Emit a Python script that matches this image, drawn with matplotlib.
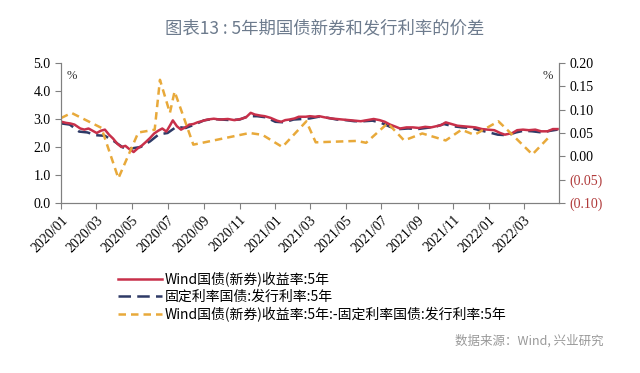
import numpy as np
import pandas as pd
import matplotlib
matplotlib.use("Agg")
import matplotlib.pyplot as plt
import matplotlib.dates as mdates
from matplotlib.ticker import FuncFormatter

plt.rcParams['font.family'] = ['Noto Sans CJK SC', 'DejaVu Sans']

# Wind国债(新券)收益率:5年 (left axis, %)
red_dates = ['2020-01-02', '2020-01-10', '2020-01-17', '2020-01-24', '2020-02-03', '2020-02-10',
             '2020-02-17', '2020-02-24', '2020-03-02', '2020-03-09', '2020-03-16', '2020-03-23',
             '2020-03-30', '2020-04-06', '2020-04-13', '2020-04-20', '2020-04-27', '2020-05-04',
             '2020-05-11', '2020-05-18', '2020-05-25', '2020-06-01', '2020-06-08', '2020-06-15',
             '2020-06-22', '2020-06-29', '2020-07-06', '2020-07-10', '2020-07-17', '2020-07-24',
             '2020-07-31', '2020-08-07', '2020-08-14', '2020-08-21', '2020-08-28', '2020-09-07',
             '2020-09-18', '2020-09-28', '2020-10-12', '2020-10-23', '2020-11-03', '2020-11-12',
             '2020-11-20', '2020-11-27', '2020-12-07', '2020-12-14', '2020-12-24', '2021-01-04',
             '2021-01-11', '2021-01-18', '2021-01-25', '2021-02-03', '2021-02-10', '2021-02-22',
             '2021-03-01', '2021-03-10', '2021-03-17', '2021-03-26', '2021-04-06', '2021-04-16',
             '2021-04-26', '2021-05-07', '2021-05-17', '2021-05-27', '2021-06-07', '2021-06-18',
             '2021-06-28', '2021-07-07', '2021-07-16', '2021-07-26', '2021-08-02', '2021-08-13',
             '2021-08-24', '2021-09-03', '2021-09-14', '2021-09-24', '2021-10-11', '2021-10-19',
             '2021-10-29', '2021-11-08', '2021-11-18', '2021-11-29', '2021-12-09', '2021-12-20',
             '2021-12-30', '2022-01-10', '2022-01-20', '2022-01-28', '2022-02-10', '2022-02-18',
             '2022-02-28', '2022-03-10', '2022-03-21', '2022-03-31', '2022-04-11', '2022-04-20',
             '2022-04-28']
red_vals = [2.90, 2.86, 2.84, 2.80, 2.66, 2.62,
            2.66, 2.58, 2.50, 2.58, 2.62, 2.44,
            2.30, 2.12, 2.00, 2.04, 1.92, 1.82,
            1.95, 2.05, 2.18, 2.32, 2.48, 2.58,
            2.66, 2.55, 2.80, 2.95, 2.74, 2.62,
            2.70, 2.80, 2.82, 2.88, 2.92, 2.98,
            3.01, 2.98, 3.00, 2.96, 3.00, 3.06,
            3.22, 3.16, 3.12, 3.10, 3.04, 2.94,
            2.90, 2.96, 2.98, 3.02, 3.08, 3.08,
            3.10, 3.08, 3.10, 3.06, 3.02, 3.00,
            2.98, 2.96, 2.94, 2.92, 2.96, 3.00,
            2.96, 2.90, 2.80, 2.72, 2.66, 2.70,
            2.70, 2.68, 2.72, 2.70, 2.78, 2.88,
            2.82, 2.76, 2.74, 2.72, 2.70, 2.64,
            2.62, 2.60, 2.50, 2.44, 2.50, 2.60,
            2.62, 2.60, 2.62, 2.56, 2.56, 2.64,
            2.64]

# 固定利率国债:发行利率:5年 (left axis, %)
blue_dates = ['2020-01-02', '2020-01-16', '2020-02-01', '2020-02-15', '2020-03-01', '2020-03-16',
              '2020-04-01', '2020-04-16', '2020-05-01', '2020-05-16', '2020-06-01', '2020-06-16',
              '2020-07-01', '2020-07-16', '2020-08-01', '2020-08-16', '2020-09-01', '2020-09-16',
              '2020-10-01', '2020-10-16', '2020-11-01', '2020-11-16', '2020-12-01', '2020-12-16',
              '2021-01-01', '2021-01-16', '2021-02-01', '2021-02-16', '2021-03-01', '2021-03-16',
              '2021-04-01', '2021-04-16', '2021-05-01', '2021-05-16', '2021-06-01', '2021-06-16',
              '2021-07-01', '2021-07-16', '2021-08-01', '2021-08-16', '2021-09-01', '2021-09-16',
              '2021-10-01', '2021-10-16', '2021-11-01', '2021-11-16', '2021-12-01', '2021-12-16',
              '2022-01-01', '2022-01-16', '2022-02-01', '2022-02-16', '2022-03-01', '2022-03-16',
              '2022-04-01', '2022-04-16', '2022-04-28']
blue_vals = [2.84, 2.80, 2.55, 2.52, 2.42, 2.40,
             2.20, 1.98, 1.95, 2.00, 2.20, 2.45,
             2.50, 2.72, 2.68, 2.80, 2.95, 3.00,
             2.98, 2.96, 2.98, 3.10, 3.10, 3.06,
             2.90, 2.88, 2.98, 3.00, 3.02, 3.08,
             3.04, 2.98, 2.96, 2.92, 2.92, 2.94,
             2.86, 2.72, 2.64, 2.66, 2.64, 2.68,
             2.72, 2.82, 2.74, 2.70, 2.68, 2.60,
             2.52, 2.44, 2.42, 2.52, 2.58, 2.56,
             2.52, 2.58, 2.62]

# 价差 (right axis, %)
spread_dates = ['2020-01-01', '2020-01-19', '2020-03-10', '2020-04-08', '2020-05-12', '2020-06-09',
                '2020-06-18', '2020-07-05', '2020-07-13', '2020-08-14', '2020-11-18', '2020-12-10',
                '2021-01-13', '2021-02-23', '2021-03-11', '2021-05-20', '2021-06-05', '2021-07-12',
                '2021-08-09', '2021-09-09', '2021-10-19', '2021-11-15', '2021-12-07', '2022-01-17',
                '2022-02-10', '2022-03-16', '2022-04-17']
spread_vals = [0.082, 0.093, 0.061, -0.047, 0.051, 0.057,
               0.164, 0.093, 0.139, 0.025, 0.050, 0.046,
               0.020, 0.075, 0.030, 0.033, 0.029, 0.071,
               0.034, 0.049, 0.034, 0.057, 0.046, 0.075,
               0.046, 0.004, 0.046]

tick_months = ['2020-01', '2020-03', '2020-05', '2020-07', '2020-09', '2020-11', '2021-01',
               '2021-03', '2021-05', '2021-07', '2021-09', '2021-11', '2022-01', '2022-03']

red_c = '#C8304A'
blue_c = '#2E3A66'
gold_c = '#E8A93A'
neg_c = '#B03A3A'
axis_c = '#808080'

fig = plt.figure(figsize=(6.4, 3.73), dpi=100)
ax = fig.add_axes([0.0953, 0.4558, 0.7777, 0.3753])
ax2 = ax.twinx()

l2, = ax.plot(pd.to_datetime(blue_dates), blue_vals, color=blue_c, lw=1.8, ls=(0, (5, 2.5)),
              zorder=2)
l1, = ax.plot(pd.to_datetime(red_dates), red_vals, color=red_c, lw=1.8, zorder=3)
l3, = ax2.plot(pd.to_datetime(spread_dates), spread_vals, color=gold_c, lw=1.8, ls=(0, (3, 2)))

ax.set_xlim(pd.Timestamp('2020-01-01'), pd.Timestamp('2022-04-30'))
ax.set_ylim(0, 5)
ax2.set_ylim(-0.10, 0.20)
ax.set_yticks(np.arange(0, 5.01, 1.0))
ax2.set_yticks(np.arange(-0.10, 0.201, 0.05))

ax.set_xticks(pd.to_datetime(tick_months))
ax.xaxis.set_major_formatter(mdates.DateFormatter('%Y/%m'))

serif = 'Liberation Serif'
for lab in ax.get_xticklabels():
    lab.set_rotation(45)
    lab.set_ha('right')
    lab.set_rotation_mode('anchor')
    lab.set_family(serif)
    lab.set_fontsize(10)
ax.yaxis.set_major_formatter(FuncFormatter(lambda v, p: f'{v:.1f}'))
for lab in ax.get_yticklabels():
    lab.set_family(serif)
    lab.set_fontsize(10)


def fmt_right(v, p):
    if v < -1e-9:
        return f'({abs(v):.2f})'
    return f'{abs(v):.2f}'


ax2.yaxis.set_major_formatter(FuncFormatter(fmt_right))
fig.canvas.draw()
for lab in ax2.get_yticklabels():
    lab.set_family(serif)
    lab.set_fontsize(10)

for a in (ax, ax2):
    a.spines['top'].set_visible(False)
    for s in ('left', 'right', 'bottom'):
        a.spines[s].set_color(axis_c)
    a.tick_params(colors=axis_c, length=4, width=0.8, labelcolor='black')
for lab, v in zip(ax2.get_yticklabels(), ax2.get_yticks()):
    if v < -1e-9:
        lab.set_color(neg_c)

ax.text(0.012, 0.95, '%', transform=ax.transAxes, ha='left', va='top', fontsize=9,
        family=serif, color='#333333')
ax2.text(0.988, 0.95, '%', transform=ax.transAxes, ha='right', va='top', fontsize=9,
         family=serif, color='#333333')

fig.text(0.508, 0.925, '图表13 : 5年期国债新券和发行利率的价差', ha='center', va='center',
         fontsize=12.5, color='#6d7b8d')

fig.legend([l1, l2, l3],
           ['Wind国债(新券)收益率:5年', '固定利率国债:发行利率:5年',
            'Wind国债(新券)收益率:5年:-固定利率国债:发行利率:5年'],
           loc='upper left', bbox_to_anchor=(0.175, 0.285), frameon=False, fontsize=10,
           handlelength=3.2, handletextpad=0.2, labelspacing=0.2, borderaxespad=0)

fig.text(0.943, 0.086, '数据来源：Wind, 兴业研究', ha='right', va='center', fontsize=9,
         color='#999999')

fig.savefig('out.png', dpi=100)
